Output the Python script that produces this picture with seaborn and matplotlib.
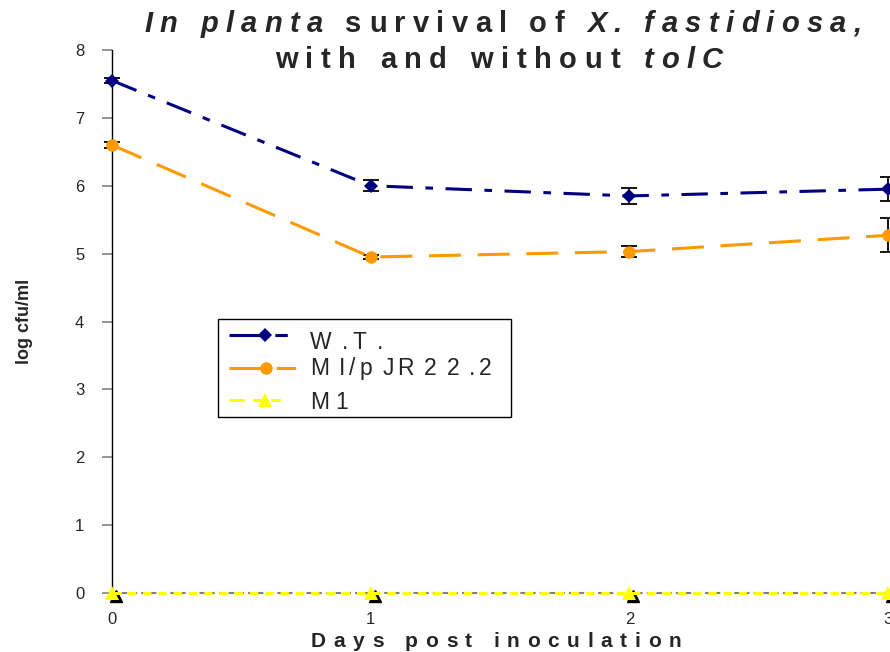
import matplotlib
matplotlib.use("Agg")
import matplotlib.pyplot as plt
import matplotlib.transforms as mtransforms
from matplotlib.lines import Line2D
from matplotlib.patches import Rectangle
import seaborn as sns
import pandas as pd

# ---- data ----
days = [0, 1, 2, 3]
wt_vals = [7.55, 6.00, 5.85, 5.95]
wt_err = [0.04, 0.08, 0.12, 0.18]
mi_vals = [6.60, 4.95, 5.03, 5.27]
mi_err = [0.05, 0.03, 0.08, 0.25]
m1_vals = [0.0, 0.0, 0.0, 0.0]
series_names = ["W.T.", "MI/pJR22.2", "M1"]
y_ticks = [0, 1, 2, 3, 4, 5, 6, 7, 8]
x_ticks = [0, 1, 2, 3]

sns.set_theme(style="white")
plt.rcParams['font.family'] = ['Liberation Sans', 'DejaVu Sans']
plt.rcParams['lines.scale_dashes'] = False

W, H = 890, 652
fig = plt.figure(figsize=(W / 100, H / 100), dpi=100)
ax = fig.add_axes([112 / W, 59 / H, 776 / W, 543 / H])

df = pd.DataFrame({
    "day": days * 3,
    "val": wt_vals + mi_vals + m1_vals,
    "series": [series_names[0]] * 4 + [series_names[1]] * 4 + [series_names[2]] * 4,
})

colors = {series_names[0]: "#000080", series_names[1]: "#FF9900", series_names[2]: "#FFFF00"}
dashes = {series_names[0]: (19, 9, 5.5, 9),
          series_names[1]: (23, 12),
          series_names[2]: (6, 5)}
markers = {series_names[0]: "D", series_names[1]: "o", series_names[2]: "^"}
msizes = {series_names[0]: 7, series_names[1]: 9, series_names[2]: 10}

# gray dashed baseline (x-axis)
ax.axhline(0, color="#808080", lw=1.5, dashes=(4, 3), zorder=1, clip_on=False)

# black shadow triangles for M1
shadow = ax.transData + mtransforms.ScaledTranslation(4 / 100, -3 / 100, fig.dpi_scale_trans)
ax.plot(days, m1_vals, ls="none", marker="^", ms=9, color="black", transform=shadow,
        clip_on=False, zorder=2)

# error bars
for vals, errs in [(wt_vals, wt_err), (mi_vals, mi_err)]:
    ax.errorbar(days, vals, yerr=errs, fmt="none", ecolor="black", elinewidth=1.3,
                capsize=6, capthick=1.3, zorder=3, clip_on=False)

sns.lineplot(data=df, x="day", y="val", hue="series", style="series",
             palette=colors, dashes=dashes, markers=markers, markersize=9,
             markeredgewidth=0, linewidth=2.2, ax=ax, legend=False, zorder=4,
             hue_order=series_names, style_order=series_names)
for ln, name in zip(ax.lines[-3:], series_names):
    ln.set_clip_on(False)
    ln.set_markersize(msizes[name])

ax.set_xlim(0, 3)
ax.set_ylim(0, 8)
ax.set_xticks(x_ticks)
ax.set_xticklabels([str(v) for v in x_ticks], fontsize=12)
ax.set_yticks(y_ticks)
ax.set_yticklabels([str(v) for v in y_ticks], fontsize=12)
ax.tick_params(axis="y", which="both", left=True, length=7, width=1.2, color="#808080",
               direction="out", pad=13)
ax.tick_params(axis="x", bottom=False, pad=8)
for s in ["top", "right", "bottom"]:
    ax.spines[s].set_visible(False)
ax.spines["left"].set_color("black")
ax.spines["left"].set_linewidth(1)
ax.set_xlabel("")
ax.set_ylabel("log cfu/ml", fontsize=13, fontweight="bold", labelpad=30)

renderer = fig.canvas.get_renderer()

def tracked(pieces, x0, baseline_y, target_w, fontsize, weight="bold", center=True,
            space=0.28, zorder=10):
    chars = []
    for txt, style in pieces:
        for c in txt:
            chars.append((c, style))
    em = fontsize * 100 / 72
    widths, objs = [], []
    for c, style in chars:
        if c == " ":
            widths.append(em * space)
            objs.append(None)
            continue
        t = fig.text(0, 0, c, fontsize=fontsize, fontweight=weight, fontstyle=style,
                     ha="left", va="baseline", zorder=zorder)
        widths.append(t.get_window_extent(renderer).width)
        objs.append(t)
    n = len(chars)
    track = (target_w - sum(widths)) / max(n - 1, 1)
    x = x0 - target_w / 2 if center else x0
    for w, t in zip(widths, objs):
        if t is not None:
            t.set_position((x / W, 1 - baseline_y / H))
        x += w + track

# ---- legend (drawn by hand to match the letter-spaced look) ----
fig.patches.append(Rectangle((218 / W, 1 - 417 / H), (511 - 218) / W, (417 - 319) / H,
                             transform=fig.transFigure, facecolor="white",
                             edgecolor="black", lw=1, zorder=5))
leg_rows = [(335, 349, [("W .T .", "normal")], 73),
            (368, 375, [("M I/p JR 2 2 .2", "normal")], 182),
            (400, 409, [("M 1", "normal")], 38)]
leg_handle_dashes = {series_names[0]: (26, 7, 9, 20),
                     series_names[1]: (28, 6, 14, 20),
                     series_names[2]: (11, 6, 7, 6, 7, 20)}
leg_marker_x = {series_names[0]: 265, series_names[1]: 266, series_names[2]: 265}
for (yh, yb, pieces, tw), name in zip(leg_rows, series_names):
    yl = 1 - yh / H
    fig.lines.append(Line2D([229 / W, 300 / W], [yl, yl], transform=fig.transFigure,
                            color=colors[name], lw=2.2, dashes=leg_handle_dashes[name],
                            zorder=6))
    fig.lines.append(Line2D([leg_marker_x[name] / W], [yl], transform=fig.transFigure,
                            color=colors[name], marker=markers[name], ms=msizes[name],
                            mew=0, ls="none", zorder=7))
    tracked(pieces, 310, yb, tw, 16.5, weight="normal", center=False, space=0.12)

# ---- title and x label ----
tracked([("In planta", "italic"), (" survival of ", "normal"), ("X. fastidiosa,", "italic")],
        503, 32, 717, 21)
tracked([("with and without ", "normal"), ("tolC", "italic")], 499, 68, 448, 21)
tracked([("Days post inoculation", "normal")], 496, 647, 370, 15)

fig.savefig("out.png", dpi=100)
